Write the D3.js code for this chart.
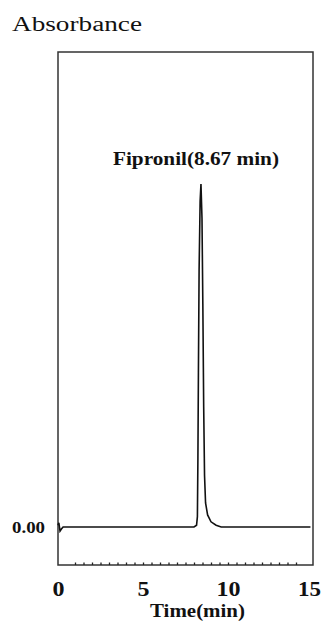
<!DOCTYPE html>
<html lang="en">
<head>
  <meta charset="UTF-8">
  <title>Fipronil chromatogram</title>
  <style>
    body { margin: 0; background: #ffffff; }
    svg { display: block; }
    svg text { font-family: 'Liberation Serif', 'DejaVu Serif', serif; fill: #111; }
  </style>
  <script src="https://d3js.org/d3.v7.min.js"></script>
</head>
<body>
  <div id="chart"></div>
  <script>
    // chromatogram trace (time in min, absorbance relative to peak)
    const times = [0, 0.05, 0.12, 0.2, 0.3, 1, 3, 5, 7, 8.0, 8.15, 8.2, 8.23, 8.26, 8.3, 8.36, 8.41,
                   8.47, 8.52, 8.57, 8.62, 8.68, 8.8, 9.0, 9.3, 9.6, 12, 14.85];
    const absorb = [0.005, 0.012, -0.012, -0.006, 0, 0, 0, 0, 0, 0, 0.005, 0.03, 0.2, 0.45, 0.75, 0.95, 1.0,
                    0.9, 0.65, 0.35, 0.15, 0.07, 0.035, 0.015, 0.005, 0, 0, 0];
    const xTickLabels = [0, 5, 10, 15];
    const minorTicks = d3.range(1, 14.01, 0.5);
    const peakLabel = 'Fipronil(8.67 min)';

    const W = 324, H = 633;
    const box = { left: 58, right: 313, top: 52, bottom: 565 };

    const svg = d3.select('#chart').append('svg')
      .attr('width', W).attr('height', H);

    const x = d3.scaleLinear().domain([0, 15]).range([box.left, box.right]);
    const y = d3.scaleLinear().domain([-0.111, 1.385]).range([box.bottom, box.top]);

    // frame
    svg.append('rect')
      .attr('x', box.left).attr('y', box.top)
      .attr('width', box.right - box.left).attr('height', box.bottom - box.top)
      .attr('fill', 'none').attr('stroke', '#333').attr('stroke-width', 1.5);

    // minor ticks inside bottom edge
    svg.append('g')
      .attr('transform', `translate(0,${box.bottom})`)
      .call(d3.axisBottom(x).tickValues(minorTicks).tickSize(-2.5).tickFormat(''))
      .call(g => g.select('.domain').remove())
      .call(g => g.selectAll('.tick line').attr('stroke', '#222').attr('stroke-width', 1.3));

    // major labels
    svg.append('g')
      .attr('transform', `translate(0,${box.bottom})`)
      .call(d3.axisBottom(x).tickValues(xTickLabels).tickSize(0).tickPadding(0).tickFormat(d3.format('d')))
      .call(g => g.select('.domain').remove())
      .call(g => g.selectAll('.tick text')
        .attr('y', 31).attr('dy', null)
        .attr('fill', '#111')
        .attr('font-family', "'Liberation Serif', serif")
        .attr('font-weight', 'bold').attr('font-size', 20)
        .attr('transform', d => d === 15 ? 'translate(-4,0) scale(1.15,1)' : 'scale(1.2,1)'));

    // trace
    const line = d3.line().x((d, i) => x(times[i])).y(d => y(d));
    svg.append('path')
      .datum(absorb)
      .attr('d', line)
      .attr('fill', 'none').attr('stroke', '#111').attr('stroke-width', 1.6)
      .attr('stroke-linejoin', 'miter');

    // texts
    svg.append('text')
      .attr('x', 12).attr('y', 31)
      .attr('font-size', 20)
      .attr('textLength', 130).attr('lengthAdjust', 'spacingAndGlyphs')
      .text('Absorbance');

    svg.append('text')
      .attr('x', 113).attr('y', 165)
      .attr('font-size', 18).attr('font-weight', 'bold')
      .attr('textLength', 166).attr('lengthAdjust', 'spacingAndGlyphs')
      .text(peakLabel);

    svg.append('text')
      .attr('x', 12).attr('y', y(0) + 6)
      .attr('font-size', 17).attr('font-weight', 'bold')
      .attr('textLength', 33).attr('lengthAdjust', 'spacingAndGlyphs')
      .text('0.00');

    svg.append('text')
      .attr('x', 150).attr('y', 617)
      .attr('font-size', 19).attr('font-weight', 'bold')
      .attr('textLength', 95).attr('lengthAdjust', 'spacingAndGlyphs')
      .text('Time(min)');
  </script>
</body>
</html>
